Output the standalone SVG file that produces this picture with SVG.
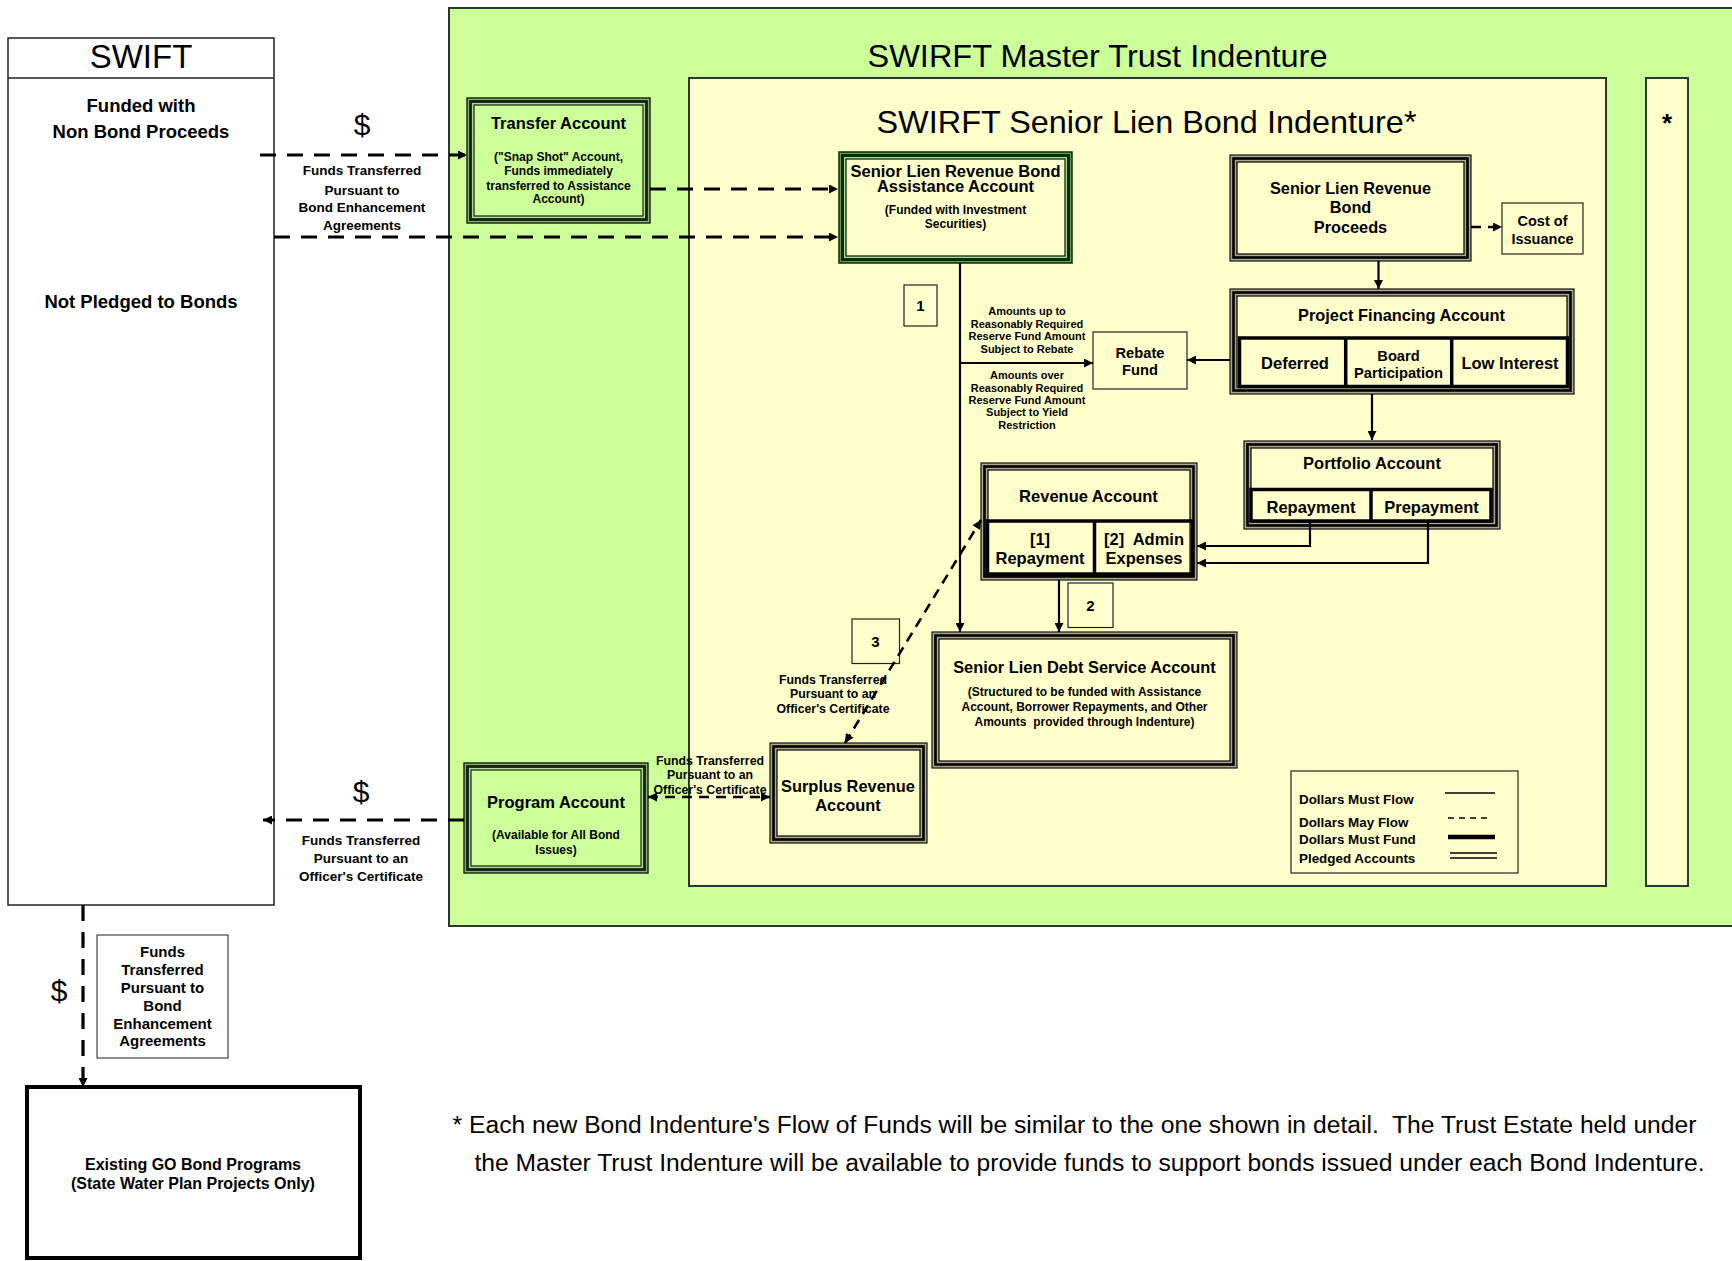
<svg xmlns="http://www.w3.org/2000/svg" width="1732" height="1261" viewBox="0 0 1732 1261">
<style>
text{font-family:"Liberation Sans",Arial,sans-serif;fill:#000}
.b{font-weight:bold}
.c{text-anchor:middle}
.panel{stroke:#2a3a2a;stroke-width:2}
.thin{fill:#ffffcc;stroke:#222;stroke-width:1.2}
.o{stroke:#111;stroke-width:1.2}
.m{stroke:#000;stroke-width:2.6}
.i{stroke:#000;stroke-width:1.2}
.og{stroke:#003300;stroke-width:1.5;fill:#6f9060}
.mg{stroke:#003300;stroke-width:3;fill:#b9cf98}
.ig{stroke:#003300;stroke-width:1.3;fill:#ffffcc}
.cell{fill:none;stroke:#000;stroke-width:3.5}
.sol{fill:none;stroke:#000;stroke-width:2.2}
.dsh{fill:none;stroke:#000;stroke-width:3.2;stroke-dasharray:16 11}
.dsh2{fill:none;stroke:#000;stroke-width:2.6;stroke-dasharray:10 7}
</style>
<defs>
<marker id="ah" viewBox="0 0 10 10" refX="10" refY="5" markerWidth="10" markerHeight="9" markerUnits="userSpaceOnUse" orient="auto-start-reverse"><path d="M0,0 L10,5 L0,10 z" fill="#000"/></marker>
</defs>
<rect width="1732" height="1261" fill="#fff"/>

<g id="master-panel">
<rect class="panel" x="449" y="8" width="1300" height="918" fill="#ccff99"/>
<text x="1097.5" y="67" class="c" font-size="32" textLength="460" lengthAdjust="spacingAndGlyphs">SWIRFT Master Trust Indenture</text>
</g>
<g id="senior-panel">
<rect class="panel" x="689" y="78" width="917" height="808" fill="#ffffcc"/>
<text x="1146.5" y="133" class="c" font-size="32" textLength="540" lengthAdjust="spacingAndGlyphs">SWIRFT Senior Lien Bond Indenture*</text>
</g>
<g id="other-indenture">
<rect class="panel" x="1646" y="78" width="42" height="808" fill="#ffffcc"/>
<text x="1667" y="132" class="c b" font-size="26">*</text>
</g>

<g id="swift">
<rect x="8" y="38" width="266" height="867" fill="#fff" stroke="#222" stroke-width="1.5"/>
<line x1="8" y1="78" x2="274" y2="78" stroke="#222" stroke-width="1.5"/>
<text x="141" y="68" class="c" font-size="33">SWIFT</text>
<text x="141" y="112" class="c b" font-size="18.5">Funded with</text>
<text x="141" y="138" class="c b" font-size="18.5">Non Bond Proceeds</text>
<text x="141" y="308" class="c b" font-size="18.5">Not Pledged to Bonds</text>
</g>

<g id="transfer-account">
<rect x="467" y="98" width="183" height="125" fill="#8fae74" stroke="#0f230f" stroke-width="1.4"/>
<rect x="470.5" y="101.5" width="176" height="118" fill="#b9d69a" stroke="#0f230f" stroke-width="2.8"/>
<rect x="474" y="105" width="169" height="111" fill="#ccff99" stroke="#0f230f" stroke-width="1.2"/>
<text x="558.5" y="129" class="c b" font-size="16.5">Transfer Account</text>
<text x="558.5" y="161" class="c b" font-size="12">("Snap Shot" Account,</text>
<text x="558.5" y="174.5" class="c b" font-size="12">Funds immediately</text>
<text x="558.5" y="190" class="c b" font-size="12">transferred to Assistance</text>
<text x="558.5" y="203" class="c b" font-size="12">Account)</text>
</g>

<g id="assistance-account">
<rect class="og" x="839" y="152" width="233" height="111"/>
<rect class="mg" x="842.5" y="155.5" width="226" height="104"/>
<rect class="ig" x="846" y="159" width="219" height="97"/>
<text class="c b" font-size="16.5"><tspan x="955.5" y="176.5">Senior Lien Revenue Bond</tspan><tspan x="955.5" y="191.5">Assistance Account</tspan></text>
<text x="955.5" y="214" class="c b" font-size="12">(Funded with Investment</text>
<text x="955.5" y="227.5" class="c b" font-size="12">Securities)</text>
</g>

<g id="proceeds">
<rect class="o" x="1230" y="155" width="241" height="106" fill="#a9a98a"/>
<rect class="m" x="1233.5" y="158.5" width="234" height="99" fill="#a9a98a"/>
<rect class="i" x="1237" y="162" width="227" height="92" fill="#ffffcc"/>
<text x="1350.5" y="194.3" class="c b" font-size="16.3">Senior Lien Revenue</text>
<text x="1350.5" y="213.3" class="c b" font-size="16.3">Bond</text>
<text x="1350.5" y="232.7" class="c b" font-size="16.3">Proceeds</text>
</g>

<g id="cost-of-issuance">
<rect class="thin" x="1502" y="203" width="81" height="51"/>
<text x="1542.5" y="226" class="c b" font-size="14.5">Cost of</text>
<text x="1542.5" y="243.5" class="c b" font-size="14.5">Issuance</text>
</g>

<g id="project-financing-account">
<rect class="o" x="1230" y="289" width="344" height="105" fill="#a9a98a"/>
<rect class="m" x="1233.5" y="292.5" width="337" height="98" fill="#a9a98a"/>
<rect class="i" x="1237" y="296" width="330" height="91" fill="#ffffcc"/>
<text x="1401.5" y="320.5" class="c b" font-size="16.4">Project Financing Account</text>
<rect class="cell" x="1239.5" y="338" width="328" height="48.5"/>
<line x1="1345.7" y1="338" x2="1345.7" y2="386.5" stroke="#000" stroke-width="3.5"/>
<line x1="1451.7" y1="338" x2="1451.7" y2="386.5" stroke="#000" stroke-width="3.5"/>
<text x="1295" y="369" class="c b" font-size="16.5">Deferred</text>
<text x="1398.5" y="361" class="c b" font-size="14.7">Board</text>
<text x="1398.5" y="378" class="c b" font-size="14.7">Participation</text>
<text x="1510" y="369" class="c b" font-size="16.5">Low Interest</text>
</g>

<g id="rebate-fund">
<rect class="thin" x="1093" y="332" width="94" height="57"/>
<text x="1140" y="358" class="c b" font-size="14.7">Rebate</text>
<text x="1140" y="374.5" class="c b" font-size="14.7">Fund</text>
</g>

<g id="box-1">
<rect class="thin" x="904" y="285" width="33" height="41"/>
<text x="920.5" y="311" class="c b" font-size="15">1</text>
</g>

<g id="rebate-labels">
<text x="1027" y="315" class="c b" font-size="11">Amounts up to</text>
<text x="1027" y="327.5" class="c b" font-size="11">Reasonably Required</text>
<text x="1027" y="340" class="c b" font-size="11">Reserve Fund Amount</text>
<text x="1027" y="352.5" class="c b" font-size="11">Subject to Rebate</text>
<text x="1027" y="378.5" class="c b" font-size="11">Amounts over</text>
<text x="1027" y="391.5" class="c b" font-size="11">Reasonably Required</text>
<text x="1027" y="403.5" class="c b" font-size="11">Reserve Fund Amount</text>
<text x="1027" y="416" class="c b" font-size="11">Subject to Yield</text>
<text x="1027" y="429" class="c b" font-size="11">Restriction</text>
</g>

<g id="portfolio-account">
<rect class="o" x="1244" y="441" width="256" height="88" fill="#a9a98a"/>
<rect class="m" x="1247.5" y="444.5" width="249" height="81" fill="#a9a98a"/>
<rect class="i" x="1251" y="448" width="242" height="74" fill="#ffffcc"/>
<text x="1372" y="469" class="c b" font-size="16.5">Portfolio Account</text>
<rect class="cell" x="1251" y="489.5" width="240" height="31.5"/>
<line x1="1371" y1="489.5" x2="1371" y2="521" stroke="#000" stroke-width="3.5"/>
<text x="1311" y="512.5" class="c b" font-size="16.5">Repayment</text>
<text x="1431.5" y="512.5" class="c b" font-size="16.5">Prepayment</text>
</g>

<g id="revenue-account">
<rect class="o" x="981" y="463" width="216" height="117" fill="#a9a98a"/>
<rect class="m" x="984.5" y="466.5" width="209" height="110" fill="#a9a98a"/>
<rect class="i" x="988" y="470" width="202" height="103" fill="#ffffcc"/>
<text x="1088.5" y="501.5" class="c b" font-size="16.5">Revenue Account</text>
<rect class="cell" x="987.5" y="521" width="205" height="53.5"/>
<line x1="1094.5" y1="521" x2="1094.5" y2="574.5" stroke="#000" stroke-width="3.5"/>
<text x="1040" y="545" class="c b" font-size="16.5">[1]</text>
<text x="1040" y="564" class="c b" font-size="16.5">Repayment</text>
<text x="1144" y="545" class="c b" font-size="16.5" xml:space="preserve">[2]  Admin</text>
<text x="1144" y="564" class="c b" font-size="16.5">Expenses</text>
</g>

<g id="box-2">
<rect class="thin" x="1068" y="583" width="45" height="44.5"/>
<text x="1090.5" y="611" class="c b" font-size="15">2</text>
</g>

<g id="debt-service-account">
<rect class="o" x="932" y="632" width="305" height="136" fill="#a9a98a"/>
<rect class="m" x="935.5" y="635.5" width="298" height="129" fill="#a9a98a"/>
<rect class="i" x="939" y="639" width="291" height="122" fill="#ffffcc"/>
<text x="1084.5" y="673" class="c b" font-size="16.4">Senior Lien Debt Service Account</text>
<text x="1084.5" y="696" class="c b" font-size="12">(Structured to be funded with Assistance</text>
<text x="1084.5" y="710.5" class="c b" font-size="12">Account, Borrower Repayments, and Other</text>
<text x="1084.5" y="726" class="c b" font-size="12" xml:space="preserve">Amounts  provided through Indenture)</text>
</g>

<g id="box-3">
<rect class="thin" x="852" y="619" width="47.5" height="44.5"/>
<text x="875.5" y="647" class="c b" font-size="15">3</text>
</g>

<g id="surplus-revenue-account">
<rect class="o" x="770" y="743" width="157" height="100" fill="#a9a98a"/>
<rect class="m" x="773.5" y="746.5" width="150" height="93" fill="#a9a98a"/>
<rect class="i" x="777" y="750" width="143" height="86" fill="#ffffcc"/>
<text x="848" y="792" class="c b" font-size="16.4">Surplus Revenue</text>
<text x="848" y="811" class="c b" font-size="16.4">Account</text>
</g>

<g id="program-account">
<rect x="464" y="763" width="184" height="110" fill="#8fae74" stroke="#0f230f" stroke-width="1.4"/>
<rect x="467.5" y="766.5" width="177" height="103" fill="#b9d69a" stroke="#0f230f" stroke-width="2.8"/>
<rect x="471" y="770" width="170" height="96" fill="#ccff99" stroke="#0f230f" stroke-width="1.2"/>
<text x="556" y="808" class="c b" font-size="16.5">Program Account</text>
<text x="556" y="839" class="c b" font-size="12">(Available for All Bond</text>
<text x="556" y="854" class="c b" font-size="12">Issues)</text>
</g>

<g id="legend">
<rect x="1291" y="771" width="227" height="102" fill="#ffffcc" stroke="#333" stroke-width="1.3"/>
<text x="1299" y="804" class="b" font-size="13.4">Dollars Must Flow</text>
<text x="1299" y="827" class="b" font-size="13.4">Dollars May Flow</text>
<text x="1299" y="844" class="b" font-size="13.4">Dollars Must Fund</text>
<text x="1299" y="862.5" class="b" font-size="13.4">Pledged Accounts</text>
<line x1="1445" y1="793" x2="1495" y2="793" stroke="#000" stroke-width="1.5"/>
<line x1="1448" y1="818" x2="1492" y2="818" stroke="#000" stroke-width="1.5" stroke-dasharray="6 5"/>
<line x1="1448" y1="837" x2="1495" y2="837" stroke="#000" stroke-width="4.5"/>
<line x1="1450" y1="853" x2="1497" y2="853" stroke="#000" stroke-width="1.5"/>
<line x1="1450" y1="858" x2="1497" y2="858" stroke="#000" stroke-width="1.5"/>
</g>

<g id="enhancement-label">
<rect x="97" y="935" width="131" height="123" fill="#fff" stroke="#444" stroke-width="1.2"/>
<text x="162.5" y="957" class="c b" font-size="15">Funds</text>
<text x="162.5" y="975" class="c b" font-size="15">Transferred</text>
<text x="162.5" y="993" class="c b" font-size="15">Pursuant to</text>
<text x="162.5" y="1011" class="c b" font-size="15">Bond</text>
<text x="162.5" y="1029" class="c b" font-size="15">Enhancement</text>
<text x="162.5" y="1046" class="c b" font-size="15">Agreements</text>
</g>

<g id="existing-go">
<rect x="27" y="1087" width="333" height="171" fill="#fff" stroke="#000" stroke-width="4"/>
<text x="193" y="1170" class="c b" font-size="16">Existing GO Bond Programs</text>
<text x="193" y="1189" class="c b" font-size="16">(State Water Plan Projects Only)</text>
</g>

<g id="connectors">
<line class="dsh" x1="260" y1="155" x2="467" y2="155" marker-end="url(#ah)"/>
<line class="dsh" x1="274" y1="237" x2="838" y2="237" marker-end="url(#ah)"/>
<line class="dsh" x1="650" y1="189" x2="838" y2="189" marker-end="url(#ah)"/>
<line class="sol" x1="960" y1="263" x2="960" y2="632" marker-end="url(#ah)"/>
<line class="sol" x1="960" y1="363" x2="1093" y2="363" marker-end="url(#ah)"/>
<line class="sol" x1="1230" y1="360" x2="1187" y2="360" marker-end="url(#ah)"/>
<line class="dsh2" x1="1471" y1="227" x2="1502" y2="227" marker-end="url(#ah)"/>
<line class="sol" x1="1378.5" y1="261" x2="1378.5" y2="289" stroke-width="2.6" marker-end="url(#ah)"/>
<line class="sol" x1="1372" y1="394" x2="1372" y2="440" stroke-width="2.6" marker-end="url(#ah)"/>
<path class="sol" d="M1310,521 V546 H1197" stroke-width="2.6" marker-end="url(#ah)"/>
<path class="sol" d="M1428,521 V563 H1197" stroke-width="2.6" marker-end="url(#ah)"/>
<line class="sol" x1="1059" y1="580" x2="1059" y2="632" stroke-width="2.6" marker-end="url(#ah)"/>
<line class="dsh2" x1="845" y1="743" x2="981" y2="520" marker-start="url(#ah)" marker-end="url(#ah)"/>
<line class="dsh2" x1="648" y1="797" x2="770" y2="797" stroke-width="3.2" marker-start="url(#ah)" marker-end="url(#ah)"/>
<line class="dsh" x1="464" y1="820" x2="263" y2="820" marker-end="url(#ah)"/>
<line class="dsh" x1="83" y1="905" x2="83" y2="1087" stroke-dasharray="11 7" marker-end="url(#ah)"/>
</g>

<g id="connector-labels">
<text x="362" y="135" class="c" font-size="30">$</text>
<text x="362" y="175" class="c b" font-size="13.5">Funds Transferred</text>
<text x="362" y="195" class="c b" font-size="13.5">Pursuant to</text>
<text x="362" y="212" class="c b" font-size="13.5">Bond Enhancement</text>
<text x="362" y="230" class="c b" font-size="13.5">Agreements</text>
<text x="361" y="802" class="c" font-size="30">$</text>
<text x="361" y="845" class="c b" font-size="13.5">Funds Transferred</text>
<text x="361" y="863" class="c b" font-size="13.5">Pursuant to an</text>
<text x="361" y="881" class="c b" font-size="13.5">Officer's Certificate</text>
<text x="59" y="1001" class="c" font-size="30">$</text>
<text x="833" y="683.5" class="c b" font-size="12.3">Funds Transferred</text>
<text x="833" y="698" class="c b" font-size="12.3">Pursuant to an</text>
<text x="833" y="712.5" class="c b" font-size="12.3">Officer's Certificate</text>
<text x="710" y="764.5" class="c b" font-size="12.3">Funds Transferred</text>
<text x="710" y="779" class="c b" font-size="12.3">Pursuant to an</text>
<text x="710" y="793.5" class="c b" font-size="12.3">Officer's Certificate</text>
</g>

<g id="footnote">
<text x="452.5" y="1133" font-size="23" textLength="1244" lengthAdjust="spacingAndGlyphs" xml:space="preserve">* Each new Bond Indenture's Flow of Funds will be similar to the one shown in detail.  The Trust Estate held under</text>
<text x="474.5" y="1171" font-size="23" textLength="1230" lengthAdjust="spacingAndGlyphs">the Master Trust Indenture will be available to provide funds to support bonds issued under each Bond Indenture.</text>
</g>
</svg>
